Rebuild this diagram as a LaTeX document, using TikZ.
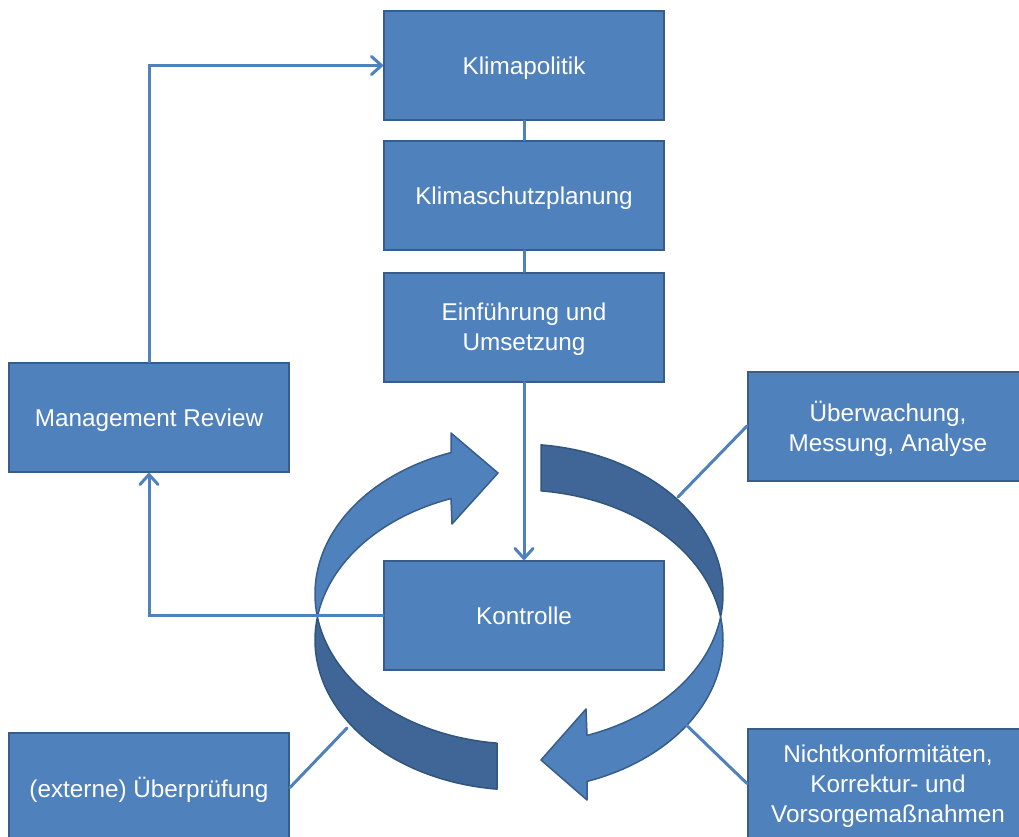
\documentclass[tikz,border=0pt]{standalone}
\usepackage{fontspec}
\setmainfont{Liberation Sans}
\usetikzlibrary{arrows.meta}
\definecolor{boxfill}{HTML}{4F81BD}
\definecolor{boxline}{HTML}{385D8A}
\definecolor{banddark}{HTML}{3F6696}
\definecolor{banddarkline}{HTML}{31557F}
\definecolor{connc}{HTML}{4F81BD}
\begin{document}
\begin{tikzpicture}[x=1pt,y=-1pt,
  box/.style={rectangle, draw=boxline, fill=boxfill, line width=2pt,
    minimum width=280pt, minimum height=109pt, inner sep=0pt, text=white,
    text depth=0pt, align=center, font=\fontsize{24.3}{30}\selectfont},
  conn/.style={draw=connc, line width=3pt, line cap=round},
  arr/.style={conn, -{Straight Barb[round,length=10pt,width=18pt]}},
  light/.style={fill=boxfill, draw=boxline, line width=1.5pt, line join=round},
  dark/.style={fill=banddark, draw=banddarkline, line width=1.5pt, line join=round}]
\useasboundingbox (0,0) rectangle (1019,837);
\clip (0,0) rectangle (1019,837);

% circular ribbon arrows
\draw[dark] plot[domain=188.82:96.19,samples=80] ({519+204*cos(\x)},{640+150*sin(\x)})
  -- plot[domain=96.19:171.18,samples=80] ({519+204*cos(\x)},{594+150*sin(\x)}) -- cycle;
\draw[dark] plot[domain=-83.81:8.82,samples=80] ({519+204*cos(\x)},{594+150*sin(\x)})
  -- plot[domain=-8.82:-83.81,samples=80] ({519+204*cos(\x)},{640+150*sin(\x)}) -- cycle;
\draw[light] plot[domain=171.18:250.53,samples=80] ({519+204*cos(\x)},{594+150*sin(\x)})
  -- (451,433) -- (498,473) -- (452,524)
  -- plot[domain=250.53:188.82,samples=80] ({519+204*cos(\x)},{640+150*sin(\x)}) -- cycle;
\draw[light] plot[domain=-8.82:70.53,samples=80] ({519+204*cos(\x)},{640+150*sin(\x)})
  -- (587,800) -- (541,760) -- (586,709)
  -- plot[domain=70.53:8.82,samples=80] ({519+204*cos(\x)},{594+150*sin(\x)}) -- cycle;

% boxes
\node[box] (klima) at (524,65.5) {Klimapolitik};
\node[box] (plan) at (524,195.5) {Klimaschutzplanung};
\node[box] (einf) at (524,327) {Einführung und\\Umsetzung};
\node[box] (kontr) at (524,615.5) {Kontrolle};
\node[box] (mgmt) at (149,417.5) {Management Review};
\node[box] (ueber) at (888,426) {Überwachung,\\Messung, Analyse};
\node[box] (nicht) at (888,783.5) {Nichtkonformitäten,\\Korrektur- und\\Vorsorgemaßnahmen};
\node[box] (extern) at (149,787.5) {(externe) Überprüfung};

\coordinate (pu) at (678,497);
\coordinate (pn) at (678,717);
\coordinate (pe) at (347,728);

% connectors
\draw[conn] (klima.south) -- (plan.north);
\draw[conn] (plan.south) -- (einf.north);
\draw[arr] (einf.south) -- (kontr.north);
\draw[arr] (mgmt.north) |- (klima.west);
\draw[arr] (kontr.west) -| (mgmt.south);
\draw[conn] (ueber.west) -- (pu);
\draw[conn] (nicht.west) -- (pn);
\draw[conn] (extern.east) -- (pe);
\end{tikzpicture}
\end{document}
